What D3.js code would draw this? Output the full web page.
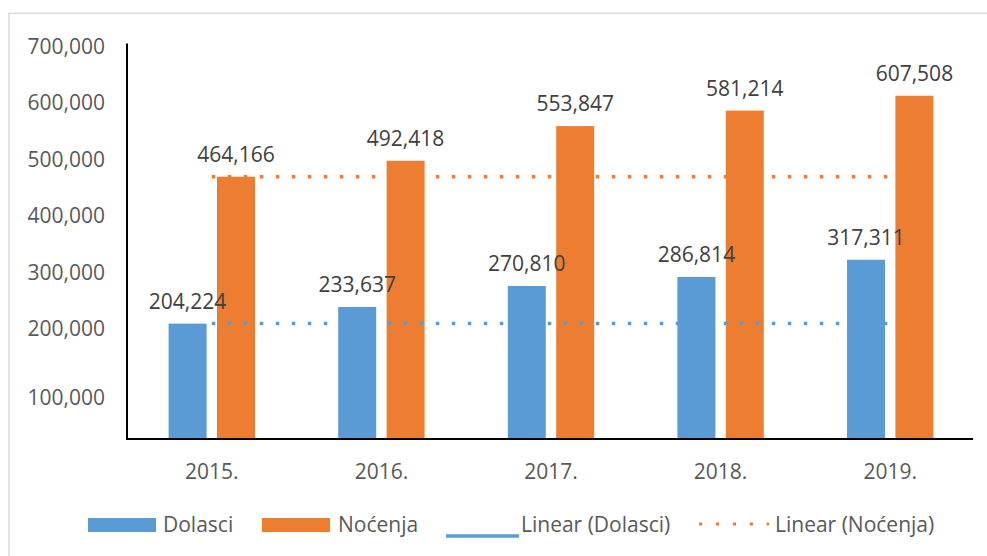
<!DOCTYPE html>
<html>
<head>
<meta charset="utf-8">
<script src="https://cdn.jsdelivr.net/npm/d3@7"></script>
<style>
  html, body { margin: 0; padding: 0; background: #fff; }
  svg { display: block; }
  text { font-family: "Open Sans", "Liberation Sans", sans-serif; }
</style>
</head>
<body>
<svg id="chart" width="987" height="556"></svg>
<script>
const years = ["2015.", "2016.", "2017.", "2018.", "2019."];
const dolasci = [204224, 233637, 270810, 286814, 317311];
const nocenja = [464166, 492418, 553847, 581214, 607508];
const trendDolasci = [204224, 204224];   // flat "linear" trend as drawn (2015 -> 2019)
const trendNocenja = [464166, 464166];
const yTicks = [100000, 200000, 300000, 400000, 500000, 600000, 700000];
const seriesNames = ["Dolasci", "Noćenja", "Linear (Dolasci)", "Linear (Noćenja)"];

const BLUE = "#5B9BD5", ORANGE = "#ED7D31";
const svg = d3.select("#chart");

// outer frame (light gray)
svg.append("path").attr("d", "M9,556 V13.3 H987")
  .attr("fill", "none").attr("stroke", "#d9d9d9").attr("stroke-width", 1.5);

const x = d3.scaleBand().domain(years).range([127, 975]).paddingInner(0).paddingOuter(0);
const y = d3.scaleLinear().domain([0, 700000]).range([439, 43.5]);
const fmt = d3.format(",");

const barW = 38, gap = 10.4;

// y tick labels
const yg = svg.append("g");
yg.selectAll("text").data(yTicks).join("text")
  .attr("x", 105)
  .attr("y", d => y(d) + (d === 100000 ? 14.5 : 2))
  .attr("text-anchor", "end")
  .attr("dominant-baseline", "central")
  .attr("font-size", 21)
  .attr("fill", "#595959")
  .text(d => fmt(d));

// bars
const groups = svg.append("g");
groups.selectAll("rect.d").data(dolasci).join("rect").attr("class", "d")
  .attr("x", (d, i) => x(years[i]) + x.bandwidth() / 2 - gap / 2 - barW)
  .attr("y", d => y(d))
  .attr("width", barW)
  .attr("height", d => y(0) - y(d))
  .attr("fill", BLUE);
groups.selectAll("rect.n").data(nocenja).join("rect").attr("class", "n")
  .attr("x", (d, i) => x(years[i]) + x.bandwidth() / 2 + gap / 2)
  .attr("y", d => y(d))
  .attr("width", barW)
  .attr("height", d => y(0) - y(d))
  .attr("fill", ORANGE);

// trend lines
const tx = [x(years[0]) + x.bandwidth() / 2, x(years[years.length - 1]) + x.bandwidth() / 2];
const line = d3.line().x((d, i) => tx[i]).y(d => y(d));
svg.append("path").datum(trendNocenja).attr("d", line)
  .attr("fill", "none").attr("stroke", ORANGE).attr("stroke-width", 3.5)
  .attr("stroke-dasharray", "3.5 12.5");
svg.append("path").datum(trendDolasci).attr("d", line)
  .attr("fill", "none").attr("stroke", BLUE).attr("stroke-width", 3.5)
  .attr("stroke-dasharray", "3.5 12.5");

// data labels
svg.append("g").selectAll("text").data(dolasci).join("text")
  .attr("x", (d, i) => x(years[i]) + x.bandwidth() / 2 - gap / 2 - barW / 2)
  .attr("y", d => y(d) - 15)
  .attr("text-anchor", "middle")
  .attr("font-size", 21)
  .attr("fill", "#404040")
  .text(d => fmt(d));
svg.append("g").selectAll("text").data(nocenja).join("text")
  .attr("x", (d, i) => x(years[i]) + x.bandwidth() / 2 + gap / 2 + barW / 2)
  .attr("y", d => y(d) - 15)
  .attr("text-anchor", "middle")
  .attr("font-size", 21)
  .attr("fill", "#404040")
  .text(d => fmt(d));

// axes lines
svg.append("line").attr("x1", 127).attr("x2", 127).attr("y1", y(700000)).attr("y2", y(0) + 1)
  .attr("stroke", "#000").attr("stroke-width", 2);
svg.append("line").attr("x1", 126).attr("x2", 973).attr("y1", y(0)).attr("y2", y(0))
  .attr("stroke", "#000").attr("stroke-width", 2);

// category labels
svg.append("g").selectAll("text").data(years).join("text")
  .attr("x", d => x(d) + x.bandwidth() / 2)
  .attr("y", 479)
  .attr("text-anchor", "middle")
  .attr("font-size", 21)
  .attr("fill", "#595959")
  .text(d => d);

// legend
const lg = svg.append("g");
lg.append("rect").attr("x", 88).attr("y", 518).attr("width", 68).attr("height", 14).attr("fill", BLUE);
lg.append("rect").attr("x", 262).attr("y", 518).attr("width", 68).attr("height", 14).attr("fill", ORANGE);
lg.append("line").attr("x1", 446).attr("x2", 519).attr("y1", 536).attr("y2", 536)
  .attr("stroke", BLUE).attr("stroke-width", 3.5);
lg.append("line").attr("x1", 699).attr("x2", 769).attr("y1", 524).attr("y2", 524)
  .attr("stroke", ORANGE).attr("stroke-width", 3.2).attr("stroke-dasharray", "3.2 13.7");
const legX = [163, 338, 521, 775];
lg.selectAll("text").data(seriesNames).join("text")
  .attr("x", (d, i) => legX[i])
  .attr("y", 532)
  .attr("font-size", 21)
  .attr("fill", "#595959")
  .text(d => d);
</script>
</body>
</html>
